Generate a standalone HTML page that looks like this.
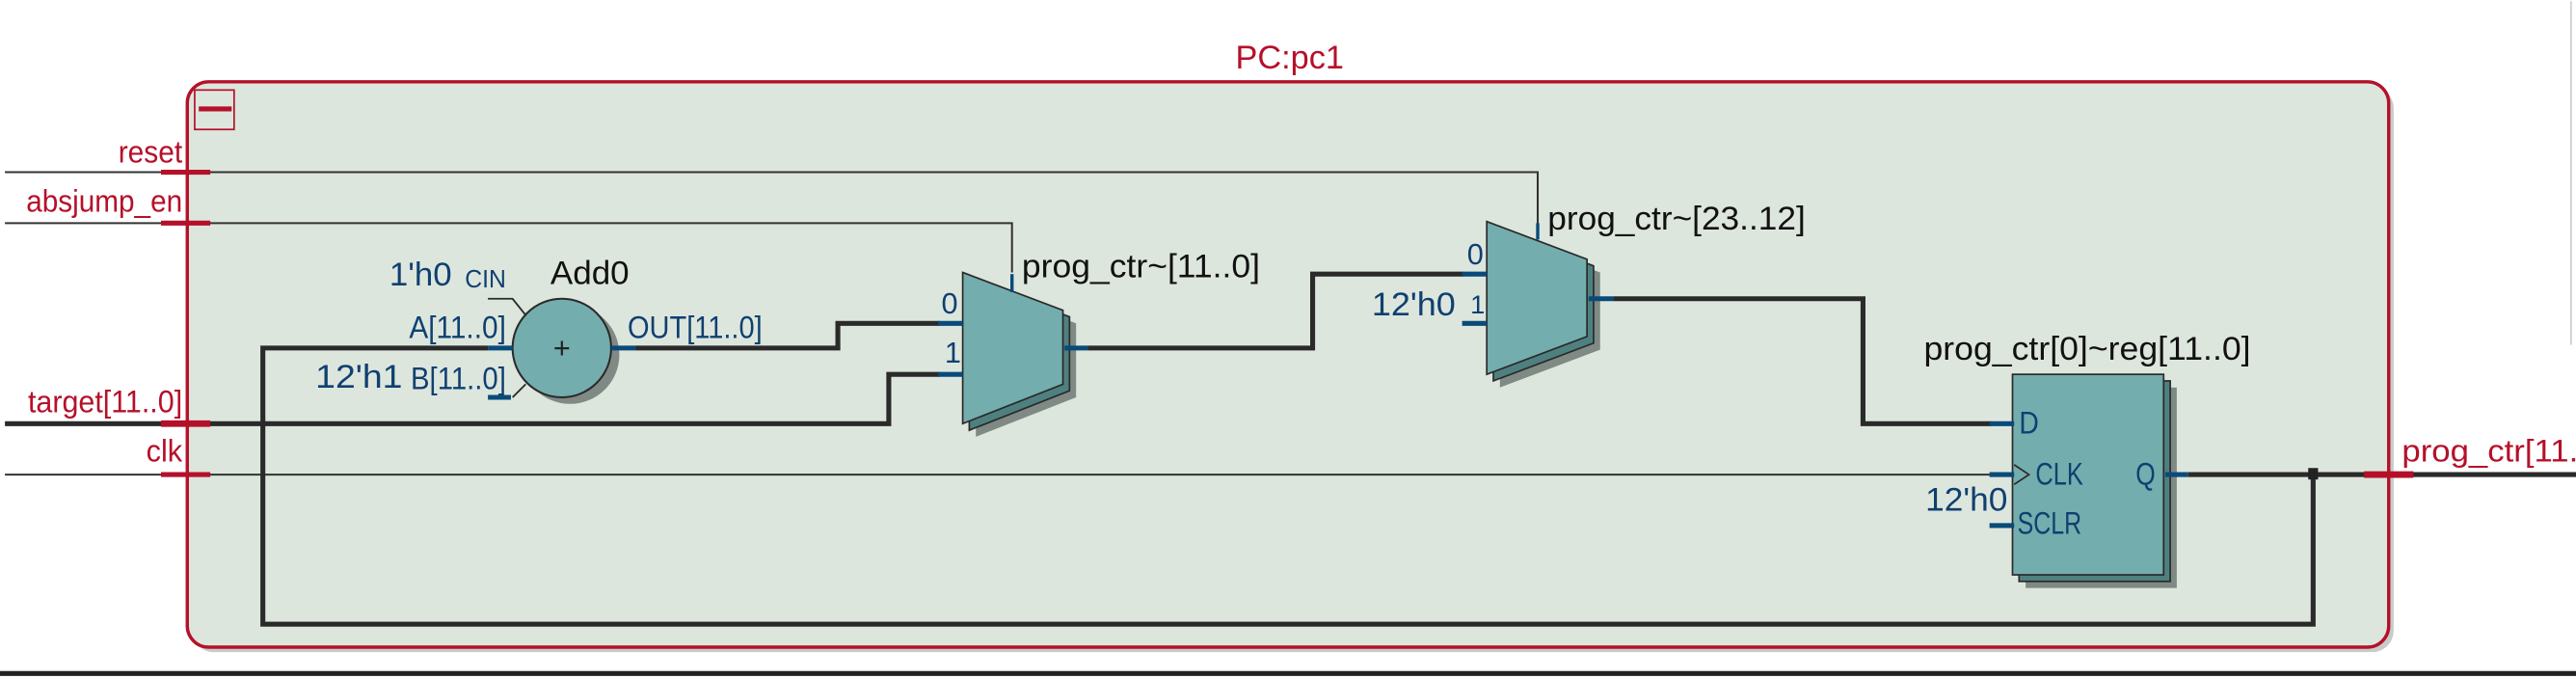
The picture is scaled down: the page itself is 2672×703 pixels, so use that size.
<!DOCTYPE html>
<html><head><meta charset="utf-8"><style>
html,body{margin:0;padding:0;background:#fff;width:2672px;height:703px;overflow:hidden}
svg{display:block}
text{font-family:"Liberation Sans",sans-serif}
</style></head><body>
<svg width="2672" height="703" viewBox="0 0 1568 411" xmlns="http://www.w3.org/2000/svg">
<rect width="1568" height="411" fill="#fff"/>
<line x1="1565" y1="0" x2="1565" y2="209" stroke="#ccc" stroke-width="1"/>
<rect x="117" y="52" width="1340" height="344" rx="13" fill="#c8ccc8"/>
<rect x="114" y="49" width="1340" height="344" rx="13" fill="#dde6dd" stroke="#b5102a" stroke-width="2"/>
<text x="752" y="41" font-size="20" fill="#b5102a" textLength="66" lengthAdjust="spacingAndGlyphs">PC:pc1</text>
<rect x="118.5" y="54" width="24" height="24" fill="none" stroke="#b5102a" stroke-width="1"/>
<rect x="121" y="64" width="20" height="3" fill="#b5102a"/>
<line x1="0" y1="409" x2="1568" y2="409" stroke="#222" stroke-width="3"/>
<g stroke="#333" stroke-width="1.2" fill="none">
<polyline points="3,104 936,104 936,136"/>
<polyline points="3,135 616,135 616,165"/>
<polyline points="3,288 1212,288"/>
</g>
<g stroke="#2a2a2a" stroke-width="3" fill="none">
<polyline points="3,257 541,257 541,227 572,227"/>
<polyline points="297,211 160,211 160,379 1408,379 1408,288"/>
<polyline points="387,211 510,211 510,196 572,196"/>
<polyline points="662,211 799,211 799,166 891,166"/>
<polyline points="982,181 1134,181 1134,257 1212,257"/>
<polyline points="1332,288 1568,288"/>
</g>
<rect x="1405" y="284" width="6" height="7" fill="#222"/>
<g stroke="#b5102a" stroke-width="3">
<line x1="98" y1="104" x2="128" y2="104"/>
<line x1="98" y1="135" x2="128" y2="135"/>
<line x1="98" y1="257" x2="128" y2="257" stroke-width="4"/>
<line x1="98" y1="288" x2="128" y2="288"/>
<line x1="1439" y1="288" x2="1469" y2="288" stroke-width="4"/>
</g>
<g font-size="19" fill="#b5102a">
<text x="111" y="98" text-anchor="end" textLength="39" lengthAdjust="spacingAndGlyphs">reset</text>
<text x="111" y="128" text-anchor="end" textLength="95" lengthAdjust="spacingAndGlyphs">absjump_en</text>
<text x="111" y="250" text-anchor="end" textLength="94" lengthAdjust="spacingAndGlyphs">target[11..0]</text>
<text x="111" y="280" text-anchor="end" textLength="22" lengthAdjust="spacingAndGlyphs">clk</text>
<text x="1462" y="280" textLength="130" lengthAdjust="spacingAndGlyphs">prog_ctr[11..0]</text>
</g>
<ellipse cx="347" cy="215" rx="30" ry="30" fill="#7f8a85"/>
<ellipse cx="342" cy="211" rx="30" ry="30" fill="#74adad" stroke="#2a2a2a" stroke-width="1.2"/>
<text x="342" y="217" font-size="18" text-anchor="middle" fill="#222">+</text>
<g stroke="#0a4a7a" stroke-width="3">
<line x1="297" y1="211" x2="312" y2="211"/>
<line x1="372" y1="211" x2="387" y2="211"/>
<line x1="297" y1="241" x2="311" y2="241"/>
</g>
<g stroke="#2a2a2a" stroke-width="1.1" fill="none">
<polyline points="297,181 312,181 320,191"/>
<polyline points="320,233 312,241"/>
</g>
<g fill="#0f4070" font-size="19">
<text x="237" y="173" font-size="20" textLength="38" lengthAdjust="spacingAndGlyphs">1'h0</text>
<text x="283" y="174" font-size="15" textLength="25" lengthAdjust="spacingAndGlyphs">CIN</text>
<text x="308" y="205" text-anchor="end" textLength="59" lengthAdjust="spacingAndGlyphs">A[11..0]</text>
<text x="382" y="205" textLength="82" lengthAdjust="spacingAndGlyphs">OUT[11..0]</text>
<text x="192" y="235" font-size="20" textLength="53" lengthAdjust="spacingAndGlyphs">12'h1</text>
<text x="250" y="236" textLength="58" lengthAdjust="spacingAndGlyphs">B[11..0]</text>
</g>
<text x="335" y="172" font-size="20" fill="#111" textLength="48" lengthAdjust="spacingAndGlyphs">Add0</text>
<polygon points="594,173 655,196 655,241 594,265" fill="#7f8a85"/>
<polygon points="590,169 651,192 651,237 590,261" fill="#4f8080" stroke="#2a2a2a" stroke-width="1"/>
<polygon points="586,165 647,188 647,233 586,257" fill="#74adad" stroke="#2a2a2a" stroke-width="1"/>
<g stroke="#0a4a7a" stroke-width="3">
<line x1="571" y1="196" x2="586" y2="196"/>
<line x1="571" y1="227" x2="586" y2="227"/>
<line x1="648" y1="211" x2="662" y2="211"/>
<line x1="616" y1="166" x2="616" y2="177" stroke-width="2"/>
</g>
<text x="573" y="190" font-size="18" fill="#0f4070">0</text>
<text x="575" y="220" font-size="18" fill="#0f4070">1</text>
<text x="622" y="168" font-size="20" fill="#111" textLength="145" lengthAdjust="spacingAndGlyphs">prog_ctr~[11..0]</text>
<polygon points="913,142 974,165 974,212 913,235" fill="#7f8a85"/>
<polygon points="909,138 970,161 970,208 909,231" fill="#4f8080" stroke="#2a2a2a" stroke-width="1"/>
<polygon points="905,134 966,157 966,204 905,227" fill="#74adad" stroke="#2a2a2a" stroke-width="1"/>
<g stroke="#0a4a7a" stroke-width="3">
<line x1="890" y1="166" x2="905" y2="166"/>
<line x1="890" y1="196" x2="905" y2="196"/>
<line x1="967" y1="181" x2="982" y2="181"/>
<line x1="936" y1="135" x2="936" y2="145" stroke-width="2"/>
</g>
<text x="893" y="160" font-size="18" fill="#0f4070">0</text>
<text x="895" y="190" font-size="16" fill="#0f4070">1</text>
<text x="835" y="191" font-size="20" fill="#0f4070" textLength="51" lengthAdjust="spacingAndGlyphs">12'h0</text>
<text x="942" y="139" font-size="20" fill="#111" textLength="157" lengthAdjust="spacingAndGlyphs">prog_ctr~[23..12]</text>
<rect x="1233" y="235" width="92" height="122" fill="#7f8a85"/>
<rect x="1229" y="231" width="92" height="122" fill="#4f8080" stroke="#2a2a2a" stroke-width="1"/>
<rect x="1225" y="227" width="92" height="122" fill="#74adad" stroke="#2a2a2a" stroke-width="1"/>
<g stroke="#0a4a7a" stroke-width="3">
<line x1="1211" y1="257" x2="1226" y2="257"/>
<line x1="1211" y1="288" x2="1226" y2="288"/>
<line x1="1211" y1="319" x2="1226" y2="319"/>
<line x1="1318" y1="288" x2="1332" y2="288"/>
</g>
<polyline points="1226,282 1235,288 1226,294" fill="none" stroke="#2a2a2a" stroke-width="1"/>
<g fill="#0f4070" font-size="19">
<text x="1229" y="263" textLength="12" lengthAdjust="spacingAndGlyphs">D</text>
<text x="1239" y="294" textLength="29" lengthAdjust="spacingAndGlyphs">CLK</text>
<text x="1300" y="294" textLength="12" lengthAdjust="spacingAndGlyphs">Q</text>
<text x="1228" y="324" textLength="39" lengthAdjust="spacingAndGlyphs">SCLR</text>
<text x="1172" y="310" font-size="20" textLength="50" lengthAdjust="spacingAndGlyphs">12'h0</text>
</g>
<text x="1171" y="218" font-size="20" fill="#111" textLength="199" lengthAdjust="spacingAndGlyphs">prog_ctr[0]~reg[11..0]</text>
</svg>
</body></html>
